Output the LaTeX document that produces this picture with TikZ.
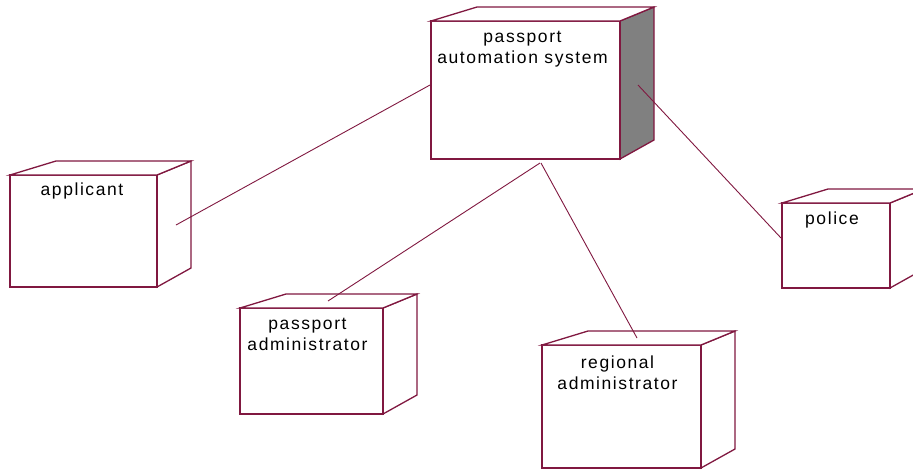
\documentclass[tikz,border=0pt]{standalone}
\usepackage{fontspec}
\setmainfont{Liberation Sans}[LetterSpace=9]
\usetikzlibrary{calc}
\definecolor{edgecol}{RGB}{128,24,64}
\definecolor{sidegrey}{RGB}{128,128,128}
\newcommand{\cubeparts}[2]{%
  \draw[cubeline, fill=#2] (#1.north east) -- ++(34,-14) -- ($(#1.south east)+(34,-19)$) -- (#1.south east) -- cycle;
  \draw[cubeline, fill=white] (#1.north west) -- ++(46,-14) -- ($(#1.north east)+(34,-14)$) -- (#1.north east) -- cycle;
  \draw[cubeline, line width=2.6pt] (#1.north east) -- (#1.south east);
}
\begin{document}
\begin{tikzpicture}[x=1pt,y=-1pt,
  cubeline/.style={draw=edgecol, line width=1.3pt, line join=miter},
  front/.style={rectangle, draw=edgecol, line width=1.3pt, fill=white, inner sep=0pt, outer sep=0pt},
  lbl/.style={font=\fontsize{17.5}{20.5}\selectfont, text=black, align=center, inner sep=0pt},
  link/.style={draw=edgecol, line width=0.9pt}]
\useasboundingbox (0,0) rectangle (913,469);
\clip (0,0) rectangle (913,469);
% boxes (front faces)
\node[front, minimum width=189pt, minimum height=138pt] (main) at (525.5,90) {};
\node[front, minimum width=147pt, minimum height=112pt] (applicant) at (83.5,231) {};
\node[front, minimum width=143pt, minimum height=106pt] (padmin) at (311.5,361) {};
\node[front, minimum width=159pt, minimum height=123pt] (radmin) at (621.5,406.5) {};
\node[front, minimum width=108pt, minimum height=85pt] (police) at (836,245.5) {};
\cubeparts{main}{sidegrey}
\cubeparts{applicant}{white}
\cubeparts{padmin}{white}
\cubeparts{radmin}{white}
\cubeparts{police}{white}
% labels (base anchor = baseline of the last line)
\node[lbl, anchor=base] (mainlbl) at ($(main.north)+(-3,42)$) {passport\\automation system};
\node[lbl, anchor=base] (applbl) at ($(applicant.north)+(-1.5,20)$) {applicant};
\node[lbl, anchor=base] (padlbl) at ($(padmin.north)+(-4,42)$) {passport\\administrator};
\node[lbl, anchor=base] (radlbl) at ($(radmin.north)+(-4,44)$) {regional\\administrator};
\node[lbl, anchor=base] (pollbl) at ($(police.north)+(-4,21)$) {police};
% connector end points
\coordinate (mainW) at (430,85);
\coordinate (mainS1) at (540,163);
\coordinate (mainS2) at (541,163);
\coordinate (mainE) at (638,85);
\coordinate (appE) at (176,225);
\coordinate (padN) at (328,301);
\coordinate (radN) at (637,338);
\coordinate (polW) at (781,238);
% connectors
\draw[link] (appE) -- (mainW);
\draw[link] (padN) -- (mainS1);
\draw[link] (mainS2) -- (radN);
\draw[link] (mainE) -- (polW);
\end{tikzpicture}
\end{document}
